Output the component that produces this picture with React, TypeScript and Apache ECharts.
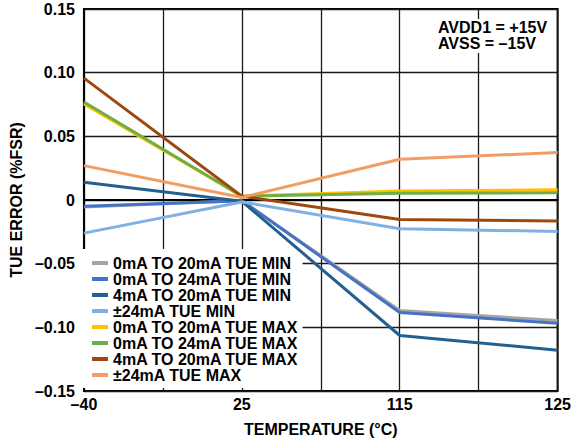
import React, { useEffect, useRef } from "react";
import * as echarts from "echarts";

const tempLabels = ["–40", "25", "115", "125"];
const seriesNames = [
  "0mA TO 20mA TUE MIN",
  "0mA TO 24mA TUE MIN",
  "4mA TO 20mA TUE MIN",
  "±24mA TUE MIN",
  "0mA TO 20mA TUE MAX",
  "0mA TO 24mA TUE MAX",
  "4mA TO 20mA TUE MAX",
  "±24mA TUE MAX",
];
const seriesColors = [
  "#a5a5a5",
  "#4472c4",
  "#255e91",
  "#80b1e2",
  "#ffc000",
  "#70ad47",
  "#9e480e",
  "#f39c61",
];
const min0to20 = [-0.0055, -0.0005, -0.0868, -0.0947];
const min0to24 = [-0.005, -0.0005, -0.0884, -0.0968];
const min4to20 = [0.014, -0.001, -0.1064, -0.118];
const minPm24 = [-0.026, -0.0015, -0.0226, -0.0247];
const max0to20 = [0.0755, 0.003, 0.007, 0.008];
const max0to24 = [0.077, 0.003, 0.0053, 0.0057];
const max4to20 = [0.0957, 0.003, -0.0153, -0.0164];
const maxPm24 = [0.027, 0.002, 0.032, 0.0373];
const seriesValues = [min0to20, min0to24, min4to20, minPm24, max0to20, max0to24, max4to20, maxPm24];
const noteLines = ["AVDD1 = +15V", "AVSS = –15V"];

const FONT = "'Liberation Sans', Arial, sans-serif";
const FS = 16;

export default function App() {
  const ref = useRef<HTMLDivElement>(null);
  useEffect(() => {
    if (!ref.current) return;
    const chart = echarts.init(ref.current, null, { renderer: "svg" });
    const fmtY = (v: number) => {
      const r = Math.round(v * 100) / 100;
      if (r === 0) return "0";
      return (r < 0 ? "–" : "") + Math.abs(r).toFixed(2);
    };
    chart.setOption({
      animation: false,
      backgroundColor: "#fff",
      textStyle: { fontFamily: FONT },
      grid: {
        left: 81,
        right: 15,
        top: 9,
        bottom: 53,
        show: true,
        borderColor: "#000",
        borderWidth: 2,
        backgroundColor: "transparent",
      },
      xAxis: {
        type: "value",
        min: 0,
        max: 3,
        interval: 0.5,
        name: "TEMPERATURE (°C)",
        nameLocation: "middle",
        nameGap: 30,
        nameTextStyle: { fontFamily: FONT, fontWeight: "bold", fontSize: FS, color: "#000" },
        axisLine: { show: true, lineStyle: { color: "#000", width: 2 } },
        axisTick: { show: false },
        axisLabel: {
          margin: 5,
          fontFamily: FONT,
          fontWeight: "bold",
          fontSize: FS,
          color: "#000",
          formatter: (v: number) => {
            const i = Math.round(v * 2);
            return i % 2 === 0 ? tempLabels[i / 2] : "";
          },
        },
        splitLine: { show: true, lineStyle: { color: "#1a1a1a", width: 1.3 } },
      },
      yAxis: {
        type: "value",
        min: -0.15,
        max: 0.15,
        interval: 0.05,
        name: "TUE ERROR (%FSR)",
        nameLocation: "middle",
        nameGap: 57,
        nameTextStyle: { fontFamily: FONT, fontWeight: "bold", fontSize: FS, color: "#000" },
        axisLine: { show: true, lineStyle: { color: "#000", width: 2 } },
        axisTick: { show: false },
        axisLabel: {
          margin: 9,
          fontFamily: FONT,
          fontWeight: "bold",
          fontSize: FS,
          color: "#000",
          formatter: fmtY,
        },
        splitLine: { show: true, lineStyle: { color: "#1a1a1a", width: 1.3 } },
      },
      legend: {
        orient: "vertical",
        left: 82,
        top: 249,
        z: 1,
        backgroundColor: "#fff",
        padding: [6, 4, 5, 10],
        itemGap: 0,
        itemWidth: 16,
        itemHeight: 4,
        icon: "rect",
        data: seriesNames,
        textStyle: {
          fontFamily: FONT,
          fontWeight: "bold",
          fontSize: FS,
          color: "#000",
          lineHeight: 16,
        },
      },
      graphic: [
        {
          type: "rect",
          left: 436,
          top: 19,
          shape: { width: 116, height: 34 },
          style: { fill: "#fff" },
          z: 10,
        },
        ...noteLines.map((t, i) => ({
          type: "text",
          x: 438,
          y: 27 + i * 16,
          z: 11,
          style: {
            text: t,
            font: `bold ${FS}px ${FONT}`,
            verticalAlign: "middle",
            align: "left",
            fill: "#000",
          },
        })),
      ],
      series: seriesNames.map((name, i) => ({
        name,
        type: "line",
        z: 3,
        data: seriesValues[i].map((v, j) => [j, v]),
        showSymbol: false,
        symbol: "none",
        color: seriesColors[i],
        lineStyle: { width: 3, color: seriesColors[i] },
      })),
    });
    return () => chart.dispose();
  }, []);
  return (
    <div
      ref={ref}
      style={{ position: "fixed", left: 0, top: 0, width: 574, height: 444 }}
    />
  );
}
